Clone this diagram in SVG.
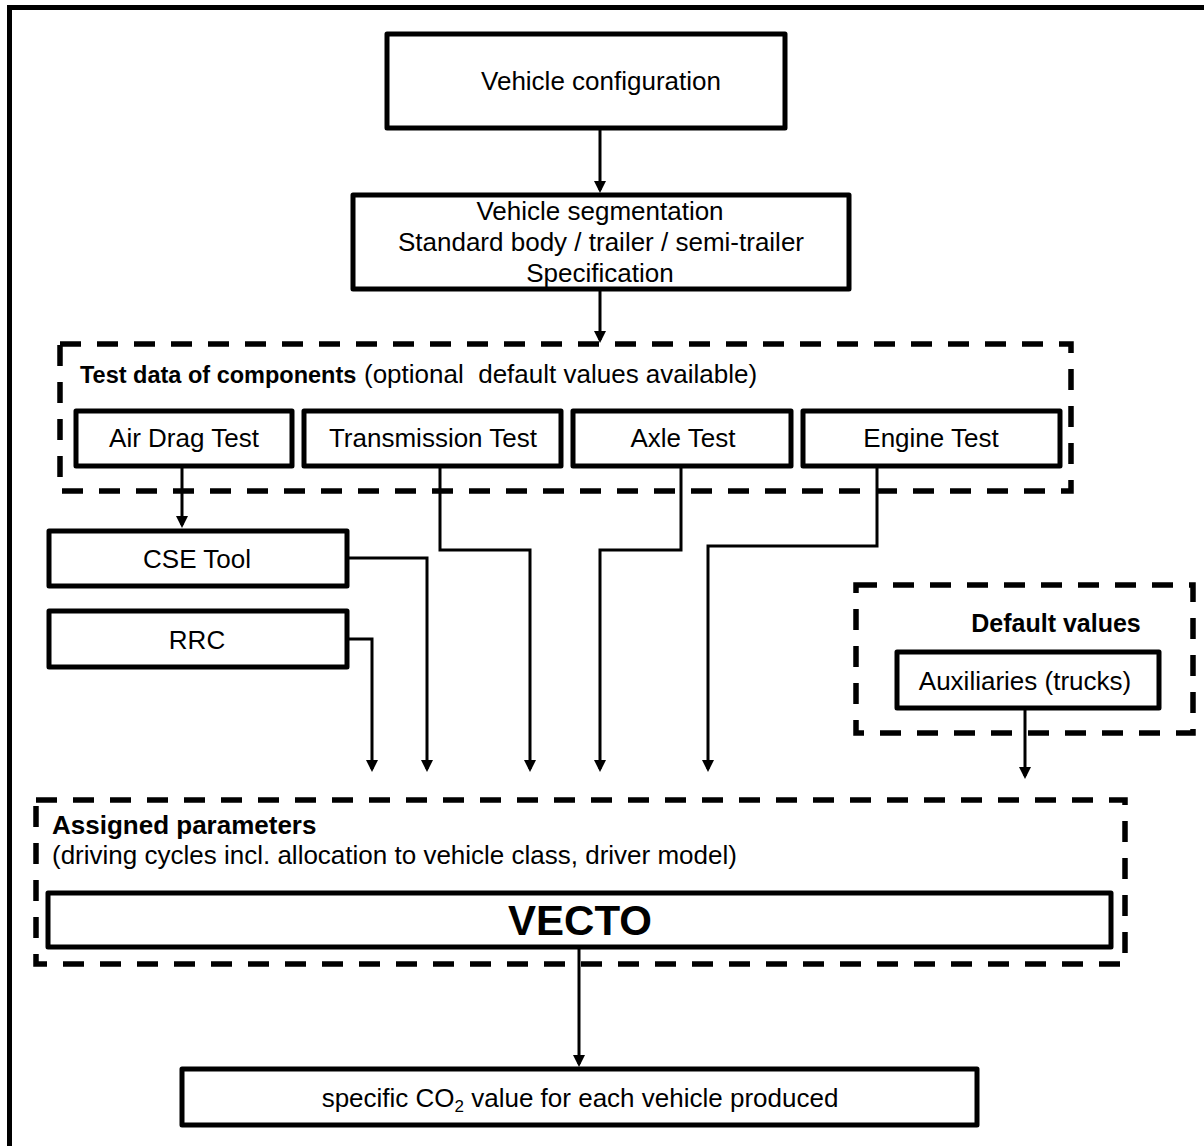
<svg xmlns="http://www.w3.org/2000/svg" width="1204" height="1146" viewBox="0 0 1204 1146">
<defs>
<style>
.box{fill:#fff;stroke:#000;stroke-width:5;stroke-linejoin:round}
.dash{fill:none;stroke:#000;stroke-width:5.5;stroke-dasharray:21 16}
.con{fill:none;stroke:#000;stroke-width:3}
.t{font-family:"Liberation Sans",Arial,sans-serif;font-size:26px;fill:#000}
.c{text-anchor:middle}
.b{font-weight:bold}
</style>
<marker id="ah" viewBox="0 0 12 12" refX="9" refY="6" markerWidth="12" markerHeight="12" markerUnits="userSpaceOnUse" orient="auto">
<path d="M0,0 L12,6 L0,12 z" fill="#000"/>
</marker>
</defs>
<rect width="1204" height="1146" fill="#fff"/>
<rect id="frame" x="9.5" y="7.5" width="1400" height="1400" fill="none" stroke="#000" stroke-width="5"/>

<g id="connectors">
<path class="con" d="M600,128 V190" marker-end="url(#ah)"/>
<path class="con" d="M600,290 V340" marker-end="url(#ah)"/>
<path class="con" d="M182,466 V525" marker-end="url(#ah)"/>
<path class="con" d="M440,466 V550 H530 V769" marker-end="url(#ah)"/>
<path class="con" d="M681,466 V550 H600 V769" marker-end="url(#ah)"/>
<path class="con" d="M877,466 V546 H708 V769" marker-end="url(#ah)"/>
<path class="con" d="M347,558 H427 V769" marker-end="url(#ah)"/>
<path class="con" d="M347,639 H372 V769" marker-end="url(#ah)"/>
<path class="con" d="M1025,708 V776" marker-end="url(#ah)"/>
<path class="con" d="M579,947 V1064" marker-end="url(#ah)"/>
</g>

<g id="vehicle-configuration">
<rect class="box" x="387" y="34" width="398" height="94"/>
<text class="t c" x="601" y="90">Vehicle configuration</text>
</g>

<g id="vehicle-segmentation">
<rect class="box" x="353" y="195" width="496" height="94"/>
<text class="t c" x="600" y="220">Vehicle segmentation</text>
<text class="t c" x="601" y="251">Standard body / trailer / semi-trailer</text>
<text class="t c" x="600" y="282">Specification</text>
</g>

<g id="test-data">
<rect class="dash" x="60" y="344" width="1011" height="147"/>
<text class="t b" x="80" y="383" style="font-size:23.5px">Test data of components</text>
<text class="t" x="364" y="383" xml:space="preserve">(optional  default values available)</text>
</g>

<g id="air-drag-test">
<rect class="box" x="76" y="411" width="216" height="55"/>
<text class="t c" x="184" y="447">Air Drag Test</text>
</g>
<g id="transmission-test">
<rect class="box" x="304" y="411" width="257" height="55"/>
<text class="t c" x="433" y="447">Transmission Test</text>
</g>
<g id="axle-test">
<rect class="box" x="573" y="411" width="218" height="55"/>
<text class="t c" x="683" y="447">Axle Test</text>
</g>
<g id="engine-test">
<rect class="box" x="803" y="411" width="257" height="55"/>
<text class="t c" x="931" y="447">Engine Test</text>
</g>

<g id="cse-tool">
<rect class="box" x="49" y="531" width="298" height="55"/>
<text class="t c" x="197" y="568">CSE Tool</text>
</g>
<g id="rrc">
<rect class="box" x="49" y="611" width="298" height="56"/>
<text class="t c" x="197" y="649">RRC</text>
</g>

<g id="default-values">
<rect class="dash" x="856" y="585" width="337" height="148"/>
<text class="t b c" x="1056" y="632" style="font-size:25px">Default values</text>
</g>
<g id="auxiliaries">
<rect class="box" x="897" y="652" width="262" height="56"/>
<text class="t c" x="1025" y="690">Auxiliaries (trucks)</text>
</g>

<g id="assigned-parameters">
<rect class="dash" x="36" y="800" width="1089" height="164"/>
<text class="t b" x="52" y="834" style="font-size:26px">Assigned parameters</text>
<text class="t" x="52" y="864">(driving cycles incl. allocation to vehicle class, driver model)</text>
</g>
<g id="vecto">
<rect class="box" x="48" y="893" width="1063" height="54"/>
<text class="t b c" x="580" y="935" style="font-size:42px">VECTO</text>
</g>

<g id="co2-value">
<rect class="box" x="182" y="1069" width="795" height="56"/>
<text class="t c" x="580" y="1107">specific CO<tspan style="font-size:17px" dy="5">2</tspan><tspan dy="-5"> value for each vehicle produced</tspan></text>
</g>
</svg>
